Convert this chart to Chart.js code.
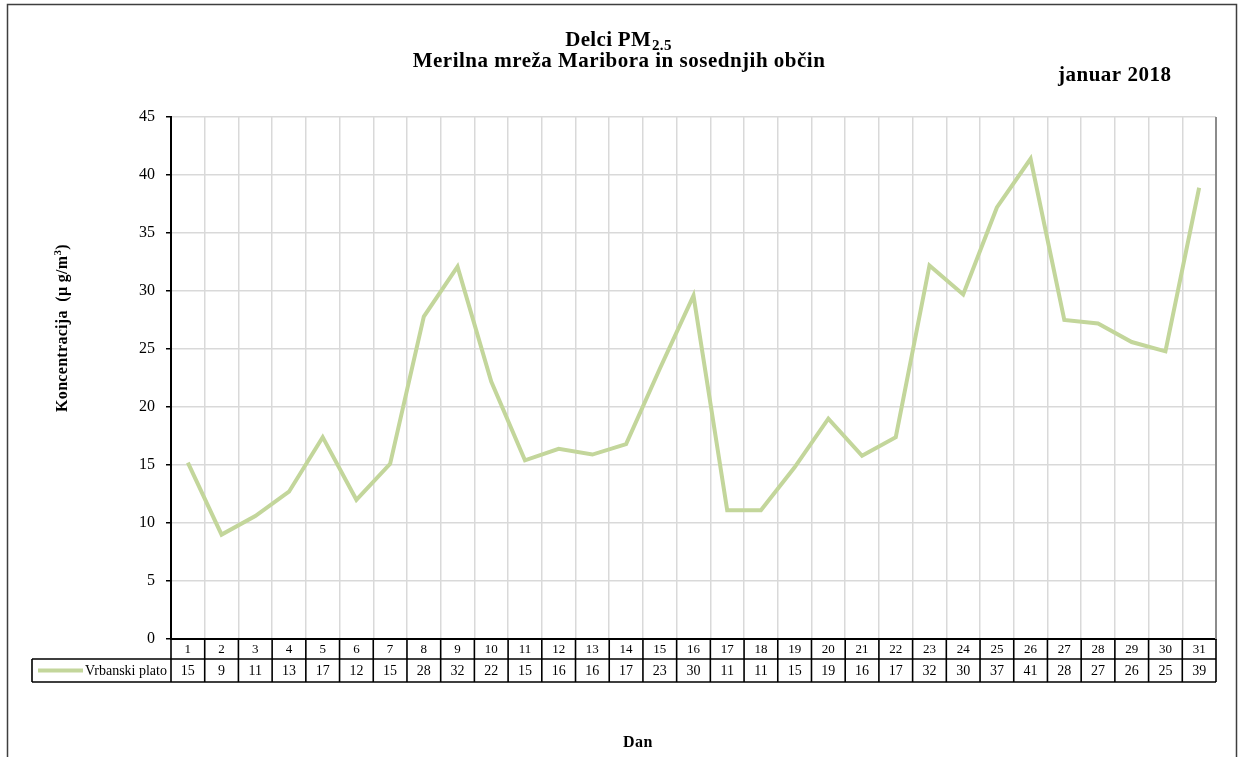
<!DOCTYPE html>
<html>
<head>
<meta charset="utf-8">
<title>Delci PM2.5 – januar 2018</title>
<script src="https://cdn.jsdelivr.net/npm/chart.js@4.4.1/dist/chart.umd.min.js"></script>
<style>
  html, body { margin: 0; padding: 0; background: #ffffff; }
  canvas { display: block; }
</style>
</head>
<body>
<canvas id="pm25" width="1250" height="757"></canvas>
<script>
// Days of the month (category axis)
const days = ['1','2','3','4','5','6','7','8','9','10','11','12','13','14','15','16',
              '17','18','19','20','21','22','23','24','25','26','27','28','29','30','31'];

// Daily mean PM2.5 concentration, µg/m³
const seriesName = 'Vrbanski plato';
const vrbanskiPlato = [15.2, 9.0, 10.6, 12.7, 17.4, 12.0, 15.1, 27.8, 32.1, 22.2,
                       15.4, 16.4, 15.9, 16.8, 23.3, 29.6, 11.1, 11.1, 14.8, 19.0,
                       15.8, 17.4, 32.2, 29.7, 37.2, 41.4, 27.5, 27.2, 25.6, 24.8, 38.9];

// Value axis
const yMin = 0;
const yMax = 45;
const yStep = 5;

// Text
const titleMain = 'Delci PM';
const titleSub = '2.5';
const titleLine2 = 'Merilna mreža Maribora in sosednjih občin';
const periodLabel = 'januar 2018';
const yTitle = 'Koncentracija  (µ g/m';
const yTitleSup = '3';
const xTitle = 'Dan';

const SERIF = '"Liberation Serif", "Times New Roman", serif';
const LINE_COLOR = '#c3d69b';
const GRID_COLOR = '#d9d9d9';

function setSpacing(ctx, px) {
  if ('letterSpacing' in ctx) ctx.letterSpacing = px + 'px';
}

// Frame, titles and axis titles
const decorPlugin = {
  id: 'decor',
  beforeDraw(chart) {
    const ctx = chart.ctx;
    ctx.save();
    ctx.fillStyle = '#ffffff';
    ctx.fillRect(0, 0, chart.width, chart.height);
    ctx.restore();
  },
  afterDraw(chart) {
    const ctx = chart.ctx;
    const area = chart.chartArea;
    ctx.save();

    // outer frame of the chart
    ctx.strokeStyle = '#3f3f3f';
    ctx.lineWidth = 1.5;
    ctx.beginPath();
    ctx.moveTo(7.5, chart.height + 2);
    ctx.lineTo(7.5, 4.5);
    ctx.lineTo(1236.5, 4.5);
    ctx.lineTo(1236.5, chart.height + 2);
    ctx.stroke();

    // right edge of plot area
    ctx.strokeStyle = '#8c8c8c';
    ctx.lineWidth = 2;
    ctx.beginPath();
    ctx.moveTo(area.right, area.top);
    ctx.lineTo(area.right, area.bottom);
    ctx.stroke();

    ctx.fillStyle = '#000000';
    ctx.textBaseline = 'alphabetic';

    // title line 1 with subscript
    setSpacing(ctx, 0.3);
    ctx.font = 'bold 21px ' + SERIF;
    const wMain = ctx.measureText(titleMain).width;
    ctx.font = 'bold 15px ' + SERIF;
    const wSub = ctx.measureText(titleSub).width;
    const x1 = 618 - (wMain + wSub) / 2;
    ctx.font = 'bold 21px ' + SERIF;
    ctx.textAlign = 'left';
    ctx.fillText(titleMain, x1, 46);
    ctx.font = 'bold 15px ' + SERIF;
    ctx.fillText(titleSub, x1 + wMain + 1, 50);

    // title line 2
    setSpacing(ctx, 0.5);
    ctx.font = 'bold 21px ' + SERIF;
    const w2 = ctx.measureText(titleLine2).width;
    ctx.textAlign = 'left';
    ctx.fillText(titleLine2, 619 - w2 / 2, 67);

    // period label
    setSpacing(ctx, 0.5);
    ctx.fillText(periodLabel, 1058, 81);

    // y axis title (rotated) with superscript
    ctx.save();
    ctx.translate(67, 328);
    ctx.rotate(-Math.PI / 2);
    setSpacing(ctx, 0.3);
    ctx.font = 'bold 16px ' + SERIF;
    const wY = ctx.measureText(yTitle).width;
    ctx.font = 'bold 11px ' + SERIF;
    const wSup = ctx.measureText(yTitleSup).width;
    ctx.font = 'bold 16px ' + SERIF;
    const close = ')';
    const wClose = ctx.measureText(close).width;
    const total = wY + wSup + wClose;
    let xs = -total / 2;
    ctx.textAlign = 'left';
    ctx.fillText(yTitle, xs, 0);
    xs += wY;
    ctx.font = 'bold 11px ' + SERIF;
    ctx.fillText(yTitleSup, xs, -6);
    xs += wSup;
    ctx.font = 'bold 16px ' + SERIF;
    ctx.fillText(close, xs, 0);
    ctx.restore();

    // x axis title
    setSpacing(ctx, 0.5);
    ctx.font = 'bold 16px ' + SERIF;
    const wX = ctx.measureText(xTitle).width;
    ctx.textAlign = 'left';
    ctx.fillText(xTitle, 638 - wX / 2, 747);

    ctx.restore();
  }
};

// Data table under the plot: day row, legend key and rounded values
const dataTablePlugin = {
  id: 'dataTable',
  afterDraw(chart) {
    const ctx = chart.ctx;
    const xScale = chart.scales.x;
    const area = chart.chartArea;
    const n = days.length;
    const step = xScale.getPixelForValue(1) - xScale.getPixelForValue(0);
    const row1Top = area.bottom;
    const row1Bot = area.bottom + 20;
    const row2Bot = area.bottom + 43;
    const keyLeft = 32;

    ctx.save();
    ctx.strokeStyle = '#000000';
    ctx.lineWidth = 1.6;

    ctx.beginPath();
    // horizontal rules
    ctx.moveTo(keyLeft, row1Bot);
    ctx.lineTo(area.right, row1Bot);
    ctx.moveTo(keyLeft, row2Bot);
    ctx.lineTo(area.right, row2Bot);
    // legend cell left border
    ctx.moveTo(keyLeft, row1Bot);
    ctx.lineTo(keyLeft, row2Bot);
    // column separators
    for (let i = 0; i <= n; i++) {
      const bx = i < n ? xScale.getPixelForValue(i) - step / 2
                       : xScale.getPixelForValue(n - 1) + step / 2;
      ctx.moveTo(bx, row1Top);
      ctx.lineTo(bx, row2Bot);
    }
    ctx.stroke();

    // legend key
    ctx.strokeStyle = LINE_COLOR;
    ctx.lineWidth = 4;
    ctx.beginPath();
    ctx.moveTo(38, (row1Bot + row2Bot) / 2);
    ctx.lineTo(83, (row1Bot + row2Bot) / 2);
    ctx.stroke();

    ctx.fillStyle = '#000000';
    ctx.textBaseline = 'middle';
    ctx.textAlign = 'left';
    ctx.font = '14px ' + SERIF;
    ctx.fillText(seriesName, 85, (row1Bot + row2Bot) / 2 + 1);

    ctx.textAlign = 'center';
    for (let i = 0; i < n; i++) {
      const cx = xScale.getPixelForValue(i);
      ctx.font = '13px ' + SERIF;
      ctx.fillText(days[i], cx, (row1Top + row1Bot) / 2 + 1);
      ctx.font = '14px ' + SERIF;
      ctx.fillText(String(Math.round(vrbanskiPlato[i])), cx, (row1Bot + row2Bot) / 2 + 1);
    }
    ctx.restore();
  }
};

new Chart(document.getElementById('pm25'), {
  type: 'line',
  data: {
    labels: days,
    datasets: [{
      label: seriesName,
      data: vrbanskiPlato,
      borderColor: LINE_COLOR,
      backgroundColor: LINE_COLOR,
      borderWidth: 4,
      pointRadius: 0,
      pointHoverRadius: 0,
      tension: 0,
      fill: false
    }]
  },
  options: {
    responsive: false,
    animation: false,
    events: [],
    layout: { padding: { left: 0, right: 34, top: 117, bottom: 118 } },
    plugins: {
      legend: { display: false },
      title: { display: false },
      tooltip: { enabled: false }
    },
    scales: {
      x: {
        type: 'category',
        offset: true,
        grid: { offset: true, color: GRID_COLOR, lineWidth: 1.5, drawTicks: false },
        border: { display: true, color: '#000000', width: 2 },
        ticks: { display: false },
        afterFit(scale) { scale.height = 0; }
      },
      y: {
        min: yMin,
        max: yMax,
        ticks: {
          stepSize: yStep,
          color: '#000000',
          padding: 11,
          font: { family: SERIF, size: 16 }
        },
        grid: {
          color: GRID_COLOR,
          lineWidth: 1.5,
          tickColor: '#000000',
          tickLength: 5,
          tickWidth: 1.5
        },
        border: { color: '#000000', width: 2 },
        afterFit(scale) { scale.width = 171; }
      }
    }
  },
  plugins: [decorPlugin, dataTablePlugin]
});
</script>
</body>
</html>
